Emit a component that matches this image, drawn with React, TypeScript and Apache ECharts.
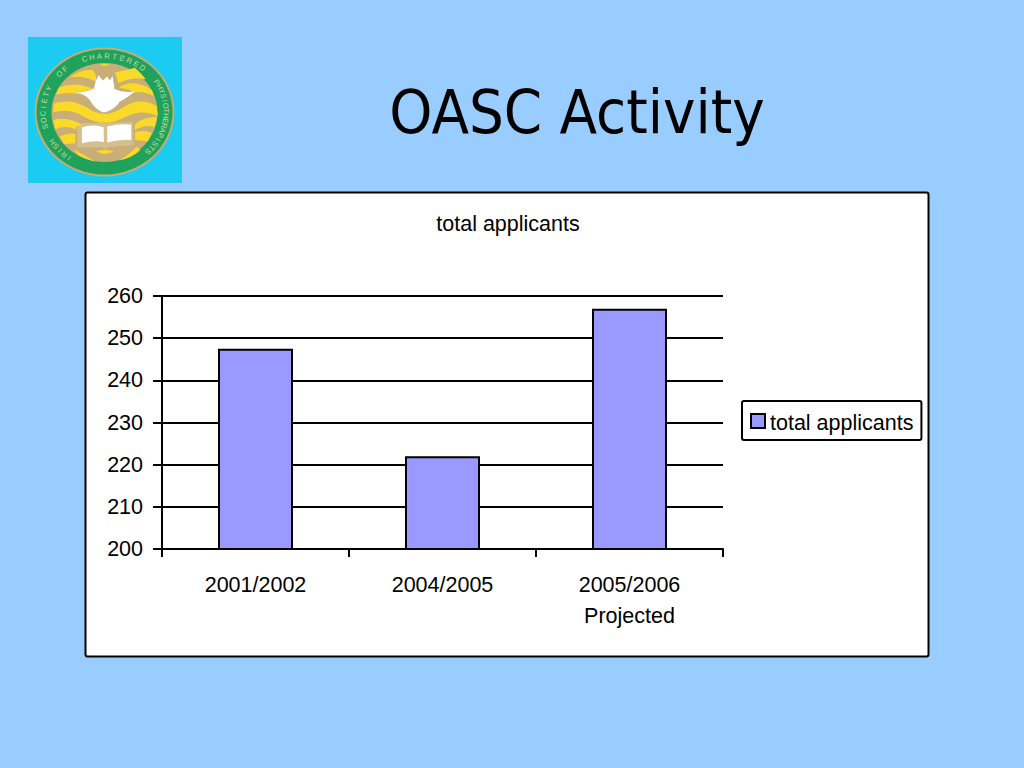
import React, { useEffect, useRef } from "react";
import * as echarts from "echarts";

const categories = ["2001/2002", "2004/2005", "2005/2006\nProjected"];
const seriesName = "total applicants";
const values = [247.5, 222, 257];
const slideTitle = "OASC Activity";
const yMin = 200;
const yMax = 260;
const yStep = 10;

// Logo drawing, in the coordinates of a 3x crop
const stripesPath =
  "M238 105 Q255 99 272 105 Q255 110 238 105 Z " +
  "M148 142 Q185 118 218 120 Q232 135 228 155 Q190 135 148 142 Z " +
  "M285 128 Q315 122 345 113 Q365 130 378 148 Q335 140 295 160 Q292 145 285 128 Z " +
  "M118 172 Q170 152 222 178 L170 186 L200 198 Q155 182 108 194 Q112 182 118 172 Z " +
  "M296 172 Q345 145 396 180 L402 198 Q365 182 345 188 Q325 178 296 172 Z " +
  "M102 220 Q155 205 200 232 Q255 272 310 232 Q360 200 410 228 L414 258 Q365 235 315 262 Q255 295 195 262 Q150 232 100 248 Z " +
  "M100 270 Q145 258 192 288 L170 290 L168 298 Q135 285 106 298 Z " +
  "M345 282 Q380 258 412 262 L404 292 Q380 282 345 300 Z " +
  "M120 320 Q145 308 166 312 L166 340 L132 342 Z " +
  "M346 306 Q375 300 396 308 L384 334 L346 330 Z " +
  "M162 358 L226 396 Q190 385 175 376 Z " +
  "M228 364 Q255 356 282 364 Q255 380 228 364 Z " +
  "M296 392 Q330 375 350 350 L362 360 Q335 385 296 392 Z";
const dovePath =
  "M228 152 L236 136 L249 152 L262 140 L270 152 L278 138 L284 178 Q315 190 346 184 Q320 205 300 215 Q285 240 252 248 Q225 240 208 208 Q190 190 168 186 Q200 188 222 176 Z";
const bookCoverPath =
  "M172 292 L186 286 L186 280 L250 280 Q256 284 262 280 L338 275 L340 345 L262 352 L255 358 L248 352 L172 352 Z";
const bookPagesPath =
  "M186 292 Q220 282 251 292 L252 336 Q220 330 186 340 Z M262 290 Q300 280 334 284 L334 330 Q295 328 262 338 Z";

echarts.graphic.registerShape("logoStripes", echarts.graphic.extendPath(stripesPath, {}));
echarts.graphic.registerShape("logoDove", echarts.graphic.extendPath(dovePath, {}));
echarts.graphic.registerShape("logoCover", echarts.graphic.extendPath(bookCoverPath, {}));
echarts.graphic.registerShape("logoPages", echarts.graphic.extendPath(bookPagesPath, {}));

const logoWords: [string, number, number][] = [
  ["IRISH", -145, -122],
  ["SOCIETY", -105, -65],
  ["OF", -47, -40],
  ["CHARTERED", -19, 38],
  ["PHYSIOTHERAPISTS", 58, 135],
];

function logoLetters() {
  const cx = 104.5;
  const cy = 112;
  const rx = 61.5;
  const ry = 56;
  const out: any[] = [];
  logoWords.forEach(([word, a0, a1]) => {
    word.split("").forEach((ch, i) => {
      const deg = a0 + ((a1 - a0) * i) / Math.max(1, word.length - 1);
      const rad = (deg * Math.PI) / 180;
      out.push({
        type: "text",
        z: -5,
        x: cx + rx * Math.sin(rad),
        y: cy - ry * Math.cos(rad),
        rotation: -rad,
        style: {
          text: ch,
          fill: "#C4DCA4",
          font: "7.5px 'Liberation Sans'",
          align: "center",
          verticalAlign: "middle",
        },
      });
    });
  });
  return out;
}

export default function App() {
  const ref = useRef<HTMLDivElement>(null);
  useEffect(() => {
    const chart = echarts.init(ref.current!, undefined, { renderer: "svg" });
    const font = "Liberation Sans";
    const logoT = { x: 20, y: 30, scaleX: 1 / 3, scaleY: 1 / 3 };
    chart.setOption({
      animation: false,
      backgroundColor: "#99CCFF",
      title: [
        {
          text: slideTitle,
          left: 572,
          top: 76,
          textAlign: "center",
          textStyle: { fontFamily: "'DejaVu Sans Condensed', 'DejaVu Sans'", fontSize: 61, fontWeight: "normal", color: "#000" },
        },
        {
          text: seriesName,
          left: 503,
          top: 208,
          textAlign: "center",
          textStyle: { fontFamily: font, fontSize: 21.5, fontWeight: "normal", color: "#000" },
        },
      ],
      legend: {
        show: true,
        left: 742,
        top: 401,
        orient: "vertical",
        padding: [11, 8, 6, 8],
        backgroundColor: "#fff",
        borderColor: "#000",
        borderWidth: 2,
        borderRadius: 2,
        itemWidth: 14,
        itemHeight: 14,
        itemGap: 0,
        formatter: (name: string) => `{a|${name}}`,
        textStyle: {
          fontFamily: font,
          fontSize: 21.5,
          color: "#000",
          rich: {
            a: { fontFamily: font, fontSize: 21.5, color: "#000", padding: [4, 0, 0, 0] },
          },
        },
        data: [{ name: seriesName, icon: "rect" }],
      },
      grid: { left: 162, top: 296, width: 561, height: 253, containLabel: false },
      xAxis: {
        type: "category",
        data: categories,
        axisLine: { show: true, lineStyle: { color: "#000", width: 2 } },
        axisTick: { show: true, length: 8, lineStyle: { color: "#000", width: 2 } },
        axisLabel: {
          color: "#000",
          fontFamily: font,
          fontSize: 21.5,
          lineHeight: 31,
          margin: 20,
          interval: 0,
        },
      },
      yAxis: {
        type: "value",
        min: yMin,
        max: yMax,
        interval: yStep,
        axisLine: { show: true, onZero: false, lineStyle: { color: "#000", width: 2 } },
        axisTick: { show: true, length: 9, lineStyle: { color: "#000", width: 2 } },
        axisLabel: { color: "#000", fontFamily: font, fontSize: 21.5, margin: 19 },
        splitLine: { show: true, lineStyle: { color: "#000", width: 2 } },
      },
      series: [
        {
          name: seriesName,
          type: "bar",
          data: values,
          barWidth: 75,
          itemStyle: { color: "#9999FF", borderColor: "#000", borderWidth: 2 },
        },
      ],
      graphic: {
        elements: [
          {
            type: "rect",
            z: -10,
            shape: { x: 85.5, y: 192.5, width: 843, height: 464, r: 2 },
            style: { fill: "#fff", stroke: "#000", lineWidth: 2 },
          },
          { type: "rect", z: -10, shape: { x: 28, y: 37, width: 154, height: 146 }, style: { fill: "#1CCBF2" } },
          { type: "ellipse", z: -9, shape: { cx: 104.5, cy: 112, rx: 70, ry: 64.5 }, style: { fill: "#C4AC72" } },
          { type: "ellipse", z: -8, shape: { cx: 104.5, cy: 112, rx: 68, ry: 62.5 }, style: { fill: "#1FA35C" } },
          { type: "ellipse", z: -7, shape: { cx: 104.5, cy: 112.5, rx: 53, ry: 49.5 }, style: { fill: "#C9AE78" } },
          { type: "logoStripes", z: -6, ...logoT, style: { fill: "#FAD928" } },
          { type: "logoCover", z: -6, ...logoT, style: { fill: "#D4C08E" } },
          { type: "logoPages", z: -5, ...logoT, style: { fill: "#FFFFFF" } },
          { type: "logoDove", z: -5, ...logoT, style: { fill: "#FFFFFF" } },
          ...logoLetters(),
        ],
      },
    });
    return () => chart.dispose();
  }, []);
  return (
    <div
      ref={ref}
      style={{ position: "absolute", left: 0, top: 0, width: 1024, height: 768 }}
    />
  );
}
